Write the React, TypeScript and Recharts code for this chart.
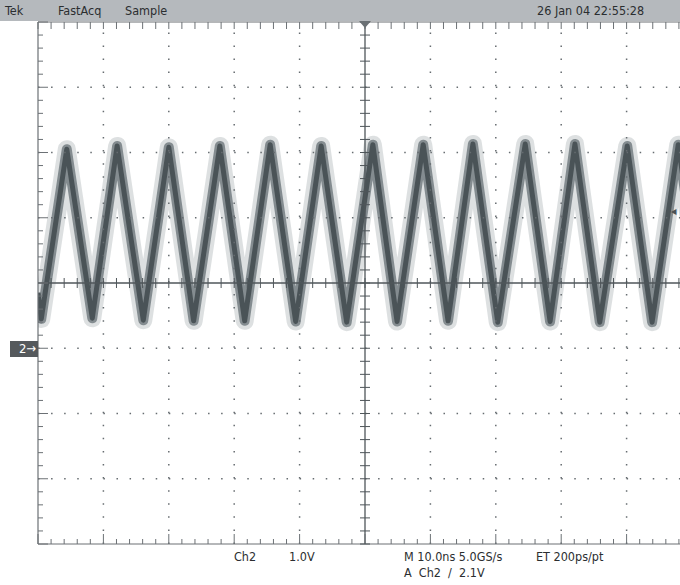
import { ComposedChart, Line, XAxis, YAxis, ReferenceLine } from "recharts";

// Ch2 trace: time (ns, trigger at 0) and level (V)
const timeNs = [
  -50, -49.5, -45.6, -41.7, -37.9, -33.9, -30.0, -26.2, -22.2, -18.4, -14.5, -10.6, -6.7, -2.8,
  1.2, 4.9, 8.9, 12.7, 16.5, 20.3, 24.5, 28.3, 32.1, 35.9, 40.1, 43.9, 47.9, 51.8,
];
const ch2Volts = [
  0.85, 0.45, 3.05, 0.46, 3.1, 0.43, 3.08, 0.42, 3.1, 0.42, 3.12, 0.41, 3.1, 0.4,
  3.12, 0.41, 3.12, 0.42, 3.13, 0.4, 3.13, 0.41, 3.13, 0.4, 3.1, 0.4, 3.12, 0.4,
];

const majorTimeTicks = [-50, -40, -30, -20, -10, 0, 10, 20, 30, 40, 50];
const majorVoltTicks = [-3, -2, -1, 0, 1, 2, 3, 4, 5];
const headerLabels = [
  { text: "Tek", left: 5 },
  { text: "FastAcq", left: 58 },
  { text: "Sample", left: 125 },
  { text: "26 Jan 04 22:55:28", left: 537 },
];
const footerLabels = [
  { text: "Ch2", left: 234, top: 549 },
  { text: "1.0V", left: 289, top: 549 },
  { text: "M 10.0ns 5.0GS/s", left: 404, top: 549 },
  { text: "ET 200ps/pt", left: 536, top: 549 },
  { text: "A  Ch2  \u2215  2.1V", left: 404, top: 565 },
];

const data = timeNs.map((t, i) => ({ t, v: ch2Volts[i] }));

const W = 680;
const H = 585;
const margin = { top: 22, right: -12, bottom: 41, left: 38 };
const px = 100 / 654; // ns per pixel
const py = 8 / 522; // volts per pixel

const minorT = Array.from({ length: 51 }, (_, i) => -50 + i * 2);
const minorV = Array.from({ length: 41 }, (_, i) => -3 + i * 0.2);
const isMajor = (val: number, step: number) => Math.abs(val / step - Math.round(val / step)) < 1e-6;

const frame = "#6c7175";
const axisCol = "#4f565a";
const font = "'Liberation Sans Narrow', 'DejaVu Sans Condensed', 'Liberation Sans', sans-serif";

export default function App() {
  const seg = (k: string, x1: number, y1: number, x2: number, y2: number, color = frame) => (
    <ReferenceLine
      key={k}
      segment={[{ x: x1, y: y1 }, { x: x2, y: y2 }]}
      stroke={color}
      strokeWidth={1}
      ifOverflow="visible"
    />
  );

  return (
    <div style={{ position: "absolute", left: 0, top: 0, width: W, height: H, background: "#fff", fontFamily: font }}>
      <ComposedChart width={W} height={H} data={data} margin={margin}>
        <XAxis type="number" dataKey="t" domain={[-50, 50]} allowDataOverflow hide />
        <YAxis type="number" domain={[-3, 5]} allowDataOverflow hide />

        {/* trace: scatter haze, band, core */}
        <Line type="linear" dataKey="v" stroke="#aab1b4" strokeOpacity={0.4} strokeWidth={18} strokeLinejoin="round" dot={false} isAnimationActive={false} />
        <Line type="linear" dataKey="v" stroke="#7a8387" strokeOpacity={0.9} strokeWidth={10} strokeLinejoin="round" dot={false} isAnimationActive={false} />
        <Line type="linear" dataKey="v" stroke="#4a5357" strokeWidth={5} strokeLinejoin="round" dot={false} isAnimationActive={false} />

        {/* dotted graticule */}
        {majorTimeTicks.filter((t) => t !== -50 && t !== 0 && t !== 50).map((t) => (
          <ReferenceLine key={`gx${t}`} x={t} stroke="#666c70" strokeWidth={1.5} strokeDasharray="1.5 11.58" ifOverflow="visible" />
        ))}
        {majorVoltTicks.filter((v) => v !== -3 && v !== 1 && v !== 5).map((v) => (
          <ReferenceLine key={`gy${v}`} y={v} stroke="#666c70" strokeWidth={1.5} strokeDasharray="1.5 11.58" ifOverflow="visible" />
        ))}

        {/* frame and centre axes */}
        <ReferenceLine x={-50} stroke={frame} strokeWidth={1.2} ifOverflow="visible" />
        <ReferenceLine y={5} stroke={frame} strokeWidth={1.2} ifOverflow="visible" />
        <ReferenceLine y={-3} stroke={frame} strokeWidth={1.2} ifOverflow="visible" />
        <ReferenceLine x={0} stroke={axisCol} strokeWidth={1.3} ifOverflow="visible" />
        <ReferenceLine y={1} stroke={axisCol} strokeWidth={1.3} ifOverflow="visible" />

        {minorT.map((t) => seg(`tt${t}`, t, 5, t, 5 - 7 * py))}
        {minorT.map((t) => seg(`tb${t}`, t, -3, t, -3 + (isMajor(t, 10) ? 10 : 5) * py))}
        {minorV.map((v) => seg(`tl${v}`, -50, v, -50 + (isMajor(v, 1) ? 10 : 5) * px, v))}
        {minorT.filter((t) => t !== -50).map((t) => seg(`ch${t}`, t, 1 - 5 * py, t, 1 + 5 * py, axisCol))}
        {minorV.map((v) => seg(`cv${v}`, -5 * px, v, 5 * px, v, axisCol))}
      </ComposedChart>

      {/* header bar */}
      <div style={{ position: "absolute", left: 0, top: 0, width: W, height: 21, background: "#b5b9bd" }} />
      {headerLabels.map((l) => (
        <div key={l.text} style={{ position: "absolute", left: l.left, top: 3, fontSize: 12.5, color: "#2b2e30", whiteSpace: "pre" }}>
          {l.text}
        </div>
      ))}
      {/* trigger position marker */}
      <div
        style={{
          position: "absolute",
          left: 359,
          top: 21,
          width: 0,
          height: 0,
          borderLeft: "6px solid transparent",
          borderRight: "6px solid transparent",
          borderTop: "7px solid #6a7074",
        }}
      />
      {/* ch2 ground marker */}
      <div
        style={{
          position: "absolute",
          left: 10,
          top: 341,
          width: 28,
          height: 16,
          background: "#55595c",
          color: "#fff",
          fontSize: 13,
          lineHeight: "16px",
          paddingLeft: 9,
          boxSizing: "border-box",
        }}
      >
        2{"\u2192"}
      </div>
      {/* trigger level marker */}
      <div style={{ position: "absolute", left: 671, top: 204, fontSize: 12, color: "#4a5054" }}>{"\u25C2"}</div>

      {footerLabels.map((l) => (
        <div key={l.text} style={{ position: "absolute", left: l.left, top: l.top, fontSize: 12.5, color: "#2b2e30", whiteSpace: "pre" }}>
          {l.text}
        </div>
      ))}
    </div>
  );
}
